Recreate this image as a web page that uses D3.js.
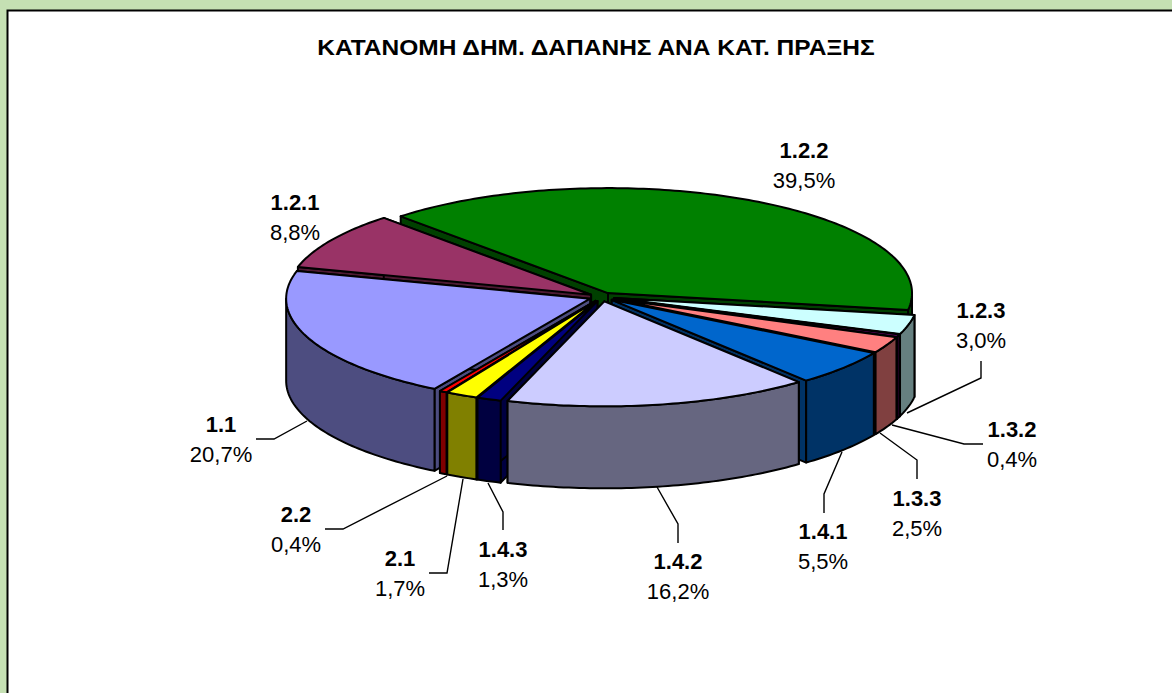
<!DOCTYPE html>
<html>
<head>
<meta charset="utf-8">
<title>ΚΑΤΑΝΟΜΗ ΔΗΜ. ΔΑΠΑΝΗΣ ΑΝΑ ΚΑΤ. ΠΡΑΞΗΣ</title>
<script src="https://cdn.jsdelivr.net/npm/d3@7"></script>
<style>
    html, body { margin: 0; padding: 0; background: #fff; overflow: hidden; }
    svg { display: block; font-family: "Liberation Sans", Arial, sans-serif; }
</style>
</head>
<body>
<div id="chart"></div>
<script>
const title = "ΚΑΤΑΝΟΜΗ ΔΗΜ. ΔΑΠΑΝΗΣ ΑΝΑ ΚΑΤ. ΠΡΑΞΗΣ";
const categories = ["1.1", "1.2.1", "1.2.2", "1.2.3", "1.3.2", "1.3.3", "1.4.1", "1.4.2", "1.4.3", "2.1", "2.2"];
const shares = [20.7, 8.8, 39.5, 3.0, 0.4, 2.5, 5.5, 16.2, 1.3, 1.7, 0.4];
const topColors = ["#9999ff", "#993366", "#008000", "#ccffff", "#660066", "#ff8080", "#0066cc", "#ccccff", "#000080", "#ffff00", "#ff0000"];

// label anchors and leader lines, by category
const labelPos = {
    "1.1": [221, 432], "1.2.1": [295, 210], "1.2.2": [804, 158], "1.2.3": [981, 318],
    "1.3.2": [1012, 437], "1.3.3": [917, 506], "1.4.1": [823, 539], "1.4.2": [678, 569],
    "1.4.3": [503, 557], "2.1": [400, 566], "2.2": [296, 522]
};
const leaders = [
    [[256, 439], [274, 439], [307, 421]],
    [[325, 529], [343, 529], [447, 476]],
    [[429, 573], [447, 573], [463, 479]],
    [[503, 530], [503, 512], [488, 483]],
    [[678, 543], [678, 524], [657, 487]],
    [[824, 513], [824, 494], [842, 452]],
    [[917, 479], [917, 460], [880, 433]],
    [[983, 444], [964, 444], [892, 425]],
    [[981, 361], [981, 378], [907, 413]]
];

const width = 1172, height = 693;
const cx = 602, cy = 297, rx = 304, ry = 105, depth = 82, explode = 0.042;
const rad = Math.PI / 180;
const firstAngle = 210.8;

const svg = d3.select("#chart").append("svg")
    .attr("width", width)
    .attr("height", height);

// frame: green strip top and left, black line, white page
svg.append("rect").attr("width", width).attr("height", height).attr("fill", "#c5e0b3");
svg.append("rect")
    .attr("x", 7.5).attr("y", 10.5)
    .attr("width", width).attr("height", height)
    .attr("fill", "#fff")
    .attr("stroke", "#000")
    .attr("stroke-width", 2);

// the original title is set in stretched capitals
svg.append("text")
    .attr("transform", "translate(596,55) scale(1.09,1)")
    .attr("text-anchor", "middle")
    .attr("font-size", 22.5)
    .attr("font-weight", "bold")
    .text(title);

const pie = d3.pie()
    .sort(null)
    .startAngle(firstAngle * rad)
    .endAngle((firstAngle + 360) * rad);

// side walls are the top colour at half brightness
function halfTone(color) {
    const c = d3.rgb(color);
    return d3.rgb(c.r / 2, c.g / 2, c.b / 2).formatHex();
}

const slices = pie(shares).map((d, i) => ({
    name: categories[i],
    top: topColors[i],
    side: halfTone(topColors[i]),
    a0: d.startAngle,
    a1: d.endAngle,
    mid: (d.startAngle + d.endAngle) / 2
}));

const line = d3.line();

function rim(a, ox, oy, dz) {
    return [ox + rx * Math.sin(a), oy - ry * Math.cos(a) + dz];
}

function arcPoints(a0, a1, ox, oy, dz) {
    const n = Math.max(2, Math.ceil((a1 - a0) / (1 * rad)));
    return d3.range(n + 1).map(k => rim(a0 + (a1 - a0) * k / n, ox, oy, dz));
}

// back slices first, front slices paint over them
slices.sort((a, b) => Math.cos(b.mid) - Math.cos(a.mid));

const g = svg.append("g")
    .attr("stroke", "#000")
    .attr("stroke-width", 2)
    .attr("stroke-linejoin", "round");

slices.forEach(s => {
    const ox = cx + rx * explode * Math.sin(s.mid);
    const oy = cy - ry * explode * Math.cos(s.mid);

    [s.a0, s.a1].forEach(a => {
        g.append("path")
            .attr("fill", s.side)
            .attr("d", line([[ox, oy], rim(a, ox, oy, 0), rim(a, ox, oy, depth), [ox, oy + depth]]) + "Z");
    });

    // the outer wall only shows on the front half of the ellipse
    [[90, 270], [450, 630]].forEach(range => {
        const lo = Math.max(s.a0, range[0] * rad), hi = Math.min(s.a1, range[1] * rad);
        if (hi <= lo) return;
        const pts = arcPoints(lo, hi, ox, oy, 0).concat(arcPoints(lo, hi, ox, oy, depth).reverse());
        g.append("path").attr("fill", s.side).attr("d", line(pts) + "Z");
    });

    g.append("path")
        .attr("fill", s.top)
        .attr("d", line([[ox, oy]].concat(arcPoints(s.a0, s.a1, ox, oy, 0))) + "Z");
});

svg.append("g")
    .selectAll("path")
    .data(leaders)
    .join("path")
    .attr("fill", "none")
    .attr("stroke", "#000")
    .attr("stroke-width", 1.4)
    .attr("d", line);

const labels = svg.append("g")
    .attr("text-anchor", "middle")
    .attr("font-size", 22)
    .selectAll("g")
    .data(categories)
    .join("g")
    .attr("transform", d => `translate(${labelPos[d][0]},${labelPos[d][1]})`);

labels.append("text")
    .attr("font-weight", "bold")
    .text(d => d);

labels.append("text")
    .attr("y", 30)
    .text((d, i) => shares[i].toFixed(1).replace(".", ",") + "%");
</script>
</body>
</html>
